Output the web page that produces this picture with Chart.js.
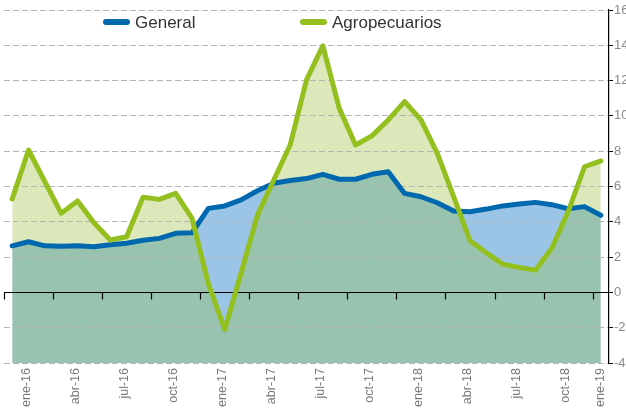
<!DOCTYPE html>
<html><head><meta charset="utf-8">
<script src="https://cdn.jsdelivr.net/npm/chart.js@4.4.1/dist/chart.umd.min.js"></script>
<style>html,body{margin:0;padding:0;background:#fff;overflow:hidden}canvas{display:block}</style>
</head><body>
<canvas id="c" width="626" height="410"></canvas>
<script>
const months = ['ene-16','feb-16','mar-16','abr-16','may-16','jun-16','jul-16','ago-16','sep-16','oct-16','nov-16','dic-16',
  'ene-17','feb-17','mar-17','abr-17','may-17','jun-17','jul-17','ago-17','sep-17','oct-17','nov-17','dic-17',
  'ene-18','feb-18','mar-18','abr-18','may-18','jun-18','jul-18','ago-18','sep-18','oct-18','nov-18','dic-18','ene-19'];
const general = [2.64,2.87,2.64,2.61,2.64,2.59,2.70,2.78,2.95,3.06,3.35,3.38,
  4.76,4.90,5.24,5.76,6.18,6.34,6.45,6.69,6.41,6.41,6.69,6.84,
  5.61,5.42,5.08,4.61,4.57,4.72,4.90,5.01,5.10,4.97,4.74,4.86,4.37];
const agropecuarios = [5.29,8.07,6.27,4.48,5.18,3.95,2.97,3.15,5.39,5.27,5.61,4.20,
  0.50,-2.10,1.10,4.38,6.37,8.35,12.04,13.97,10.44,8.35,8.87,9.77,
  10.81,9.77,7.88,5.42,2.93,2.25,1.60,1.42,1.26,2.50,4.57,7.12,7.45];
const tickLabels = ['ene-16','abr-16','jul-16','oct-16','ene-17','abr-17','jul-17','oct-17','ene-18','abr-18','jul-18','oct-18','ene-19'];
const yTicks = [-4,-2,0,2,4,6,8,10,12,14,16];

const FONT = "'Liberation Sans', Arial, sans-serif";
const last = months.length - 1;
const labelPos = tickLabels.map(t => { const i = months.indexOf(t); return i === last ? i : i + 0.85; });

const zeroAxis = {
  id: 'zeroAxis',
  beforeDatasetsDraw(chart) {
    const {ctx, chartArea: a, scales: {x, y}} = chart;
    const y0 = Math.round(y.getPixelForValue(0)) + 0.5;
    ctx.save();
    ctx.strokeStyle = '#000';
    ctx.lineWidth = 1.2;
    ctx.beginPath();
    ctx.moveTo(a.left, y0); ctx.lineTo(a.right, y0);
    for (let k = -0.5; k < months.length; k += 3) {
      const px = Math.round(x.getPixelForValue(k)) + 0.5;
      ctx.moveTo(px, y0); ctx.lineTo(px, y0 + 7);
    }
    ctx.stroke();
    ctx.restore();
  }
};

const legendOrder = [1, 0];
const legendX = [103, 300];
const customLegend = {
  id: 'customLegend',
  afterDraw(chart) {
    const ctx = chart.ctx;
    ctx.save();
    legendOrder.forEach((di, k) => {
      const ds = chart.data.datasets[di];
      const x0 = legendX[k], yc = 22;
      ctx.strokeStyle = ds.borderColor; ctx.lineWidth = 6; ctx.lineCap = 'round';
      ctx.beginPath(); ctx.moveTo(x0 + 3, yc); ctx.lineTo(x0 + 24, yc); ctx.stroke();
      ctx.fillStyle = '#333'; ctx.font = '17px ' + FONT; ctx.textBaseline = 'middle'; ctx.textAlign = 'left';
      ctx.fillText(ds.label, x0 + 32, yc + 1);
    });
    ctx.restore();
  }
};

new Chart(document.getElementById('c'), {
  type: 'line',
  data: {
    datasets: [
      { label: 'Agropecuarios', data: agropecuarios.map((v, i) => ({x: i, y: v})),
        borderColor: '#93c01f', borderWidth: 5, pointRadius: 0, tension: 0,
        borderJoinStyle: 'round', borderCapStyle: 'round',
        fill: {target: 1, above: '#dce8ba', below: '#9ac5e6'} },
      { label: 'General', data: general.map((v, i) => ({x: i, y: v})),
        borderColor: '#0068ae', borderWidth: 5, pointRadius: 0, tension: 0,
        borderJoinStyle: 'round', borderCapStyle: 'round',
        fill: {target: 'start', above: '#98c3af', below: '#98c3af'} }
    ]
  },
  options: {
    responsive: false, animation: false, devicePixelRatio: 1,
    layout: {padding: {left: 4, top: 10, right: 0, bottom: 0}},
    plugins: {legend: {display: false}, tooltip: {enabled: false}, filler: {drawTime: 'beforeDraw'}},
    scales: {
      x: {
        type: 'linear', min: -0.5, max: 36.5, bounds: 'data',
        grid: {display: false, drawTicks: false}, border: {display: false},
        afterBuildTicks: s => { s.ticks = labelPos.map(v => ({value: v})); },
        afterFit: s => { s.height = 47; },
        ticks: {
          autoSkip: false, maxRotation: 90, minRotation: 90, padding: 5,
          color: '#7a7a7a', font: {family: FONT, size: 12.5},
          callback: v => { const k = labelPos.findIndex(p => Math.abs(p - v) < 1e-6); return k >= 0 ? tickLabels[k] : ''; }
        }
      },
      y: {
        position: 'right', min: -4, max: 16,
        afterBuildTicks: s => { s.ticks = yTicks.map(v => ({value: v})); },
        afterFit: s => { s.width = 17; },
        ticks: {padding: 1, color: '#8a8a8a', font: {family: FONT, size: 13}},
        grid: {
          color: c => (c.tick && c.tick.value === 0) ? 'rgba(0,0,0,0)' : '#b5b5b5',
          lineWidth: 1, tickLength: 4, tickColor: '#000', drawTicks: true
        },
        border: {display: true, color: '#000', width: 1.2, dash: [6, 3]}
      }
    }
  },
  plugins: [zeroAxis, customLegend]
});
</script>
</body></html>
